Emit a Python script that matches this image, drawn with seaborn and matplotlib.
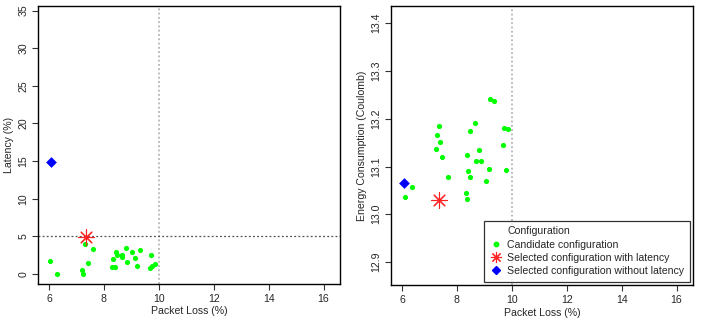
import numpy as np
import pandas as pd
import matplotlib
matplotlib.use("Agg")
import matplotlib.pyplot as plt
from matplotlib.lines import Line2D
import seaborn as sns

# Candidate configurations - left panel (packet loss vs latency)
loss_lat = [6.05, 6.29, 7.30, 7.22, 7.24, 7.42, 7.61, 8.31, 8.40, 8.43, 8.46, 8.34,
            8.65, 8.65, 8.80, 8.85, 9.03, 9.14, 9.19, 9.30, 9.72, 9.68, 9.77, 9.86]
latency = [1.68, 0.0, 3.99, 0.53, 0.0, 1.46, 3.28, 0.98, 0.98, 2.97, 2.53, 1.95,
           2.53, 2.22, 3.50, 1.55, 2.93, 2.17, 1.11, 3.19, 2.53, 0.84, 1.06, 1.29]

# Candidate configurations - right panel (packet loss vs energy)
loss_en = [6.10, 6.35, 7.34, 7.28, 7.40, 7.25, 7.47, 7.66, 9.21, 9.35, 8.67, 8.49, 9.72,
           9.85, 9.67, 8.82, 8.37, 8.68, 8.88, 8.41, 8.47, 9.18, 9.06, 9.78, 8.35, 8.38]
energy = [13.037, 13.057, 13.184, 13.166, 13.152, 13.137, 13.119, 13.078, 13.242,
          13.237, 13.191, 13.175, 13.180, 13.178, 13.146, 13.134, 13.124, 13.112,
          13.111, 13.091, 13.078, 13.095, 13.069, 13.092, 13.044, 13.031]

# Selected configurations
sel_lat_loss, sel_lat_latency, sel_lat_energy = 7.36, 4.85, 13.030
sel_nolat_loss, sel_nolat_latency, sel_nolat_energy = 6.07, 14.85, 13.066

loss_threshold = 10
latency_threshold = 5

sns.set_style("white")
plt.rcParams['font.family'] = ['Liberation Sans', 'DejaVu Sans']
fs = 7.6

fig = plt.figure(figsize=(7.06, 3.23), dpi=100)
ax1 = fig.add_axes([38 / 706, 1 - 284 / 323, 302 / 706, 278 / 323])
ax2 = fig.add_axes([391 / 706, 1 - 285 / 323, 302 / 706, 279 / 323])

star = (8, 2, 0)


def draw(ax, xs, ys, sx1, sy1, sx2, sy2):
    sns.scatterplot(x=xs, y=ys, ax=ax, color='#00ff00', s=14, linewidth=0, zorder=3)
    sns.scatterplot(x=[sx1], y=[sy1], ax=ax, color='#ff2020', marker=star, s=120,
                    linewidth=0.8, zorder=4)
    sns.scatterplot(x=[sx2], y=[sy2], ax=ax, color='#0000ff', marker='D', s=30,
                    linewidth=0, zorder=4)
    ax.axvline(loss_threshold, color='#a8a8a8', linestyle=(0, (1.2, 1.6)), linewidth=1.1, zorder=1)
    ax.set_xlim(5.6, 16.6)
    ax.set_xticks([6, 8, 10, 12, 14, 16])
    ax.set_xlabel('Packet Loss (%)', fontsize=fs, labelpad=2)
    for sp in ax.spines.values():
        sp.set_color('black')
        sp.set_linewidth(1.0)
    ax.tick_params(axis='both', direction='out', length=4.5, width=0.8, color='#333333',
                   labelsize=fs, pad=2.5, bottom=True, left=True)


draw(ax1, loss_lat, latency, sel_lat_loss, sel_lat_latency, sel_nolat_loss, sel_nolat_latency)
ax1.axhline(latency_threshold, color='#505050', linestyle=(0, (1.5, 1.8)), linewidth=0.9, zorder=1)
ax1.set_ylim(-1.33, 35.6)
ax1.set_yticks([0, 5, 10, 15, 20, 25, 30, 35])
ax1.set_ylabel('Latency (%)', fontsize=fs, labelpad=3)

draw(ax2, loss_en, energy, sel_lat_loss, sel_lat_energy, sel_nolat_loss, sel_nolat_energy)
ax2.set_ylim(12.852, 13.436)
ax2.set_yticks([12.9, 13.0, 13.1, 13.2, 13.3, 13.4])
ax2.set_yticklabels(['12.9', '13.0', '13.1', '13.2', '13.3', '13.4'])
ax2.set_ylabel('Energy Consumption (Coulomb)', fontsize=fs, labelpad=3)

for ax in (ax1, ax2):
    for lab in ax.get_yticklabels():
        lab.set_rotation(90)
        lab.set_va('center')

handles = [
    Line2D([], [], linestyle='none'),
    Line2D([], [], linestyle='none', marker='o', color='#00ff00', markersize=3.2),
    Line2D([], [], linestyle='none', marker=star, color='#ff2020', markersize=8, markeredgewidth=0.8),
    Line2D([], [], linestyle='none', marker='D', color='#0000ff', markersize=4),
]
labels = ['Configuration', 'Candidate configuration', 'Selected configuration with latency',
          'Selected configuration without latency']
leg = ax2.legend(handles, labels, loc='lower right', bbox_to_anchor=(0.99, 0.012),
                 frameon=True, fancybox=False, fontsize=fs, handlelength=1.0,
                 handletextpad=0.6, labelspacing=0.3, borderpad=0.55, borderaxespad=0)
leg.get_frame().set_edgecolor('black')
leg.get_frame().set_linewidth(0.9)

fig.savefig('out.png', dpi=100)
